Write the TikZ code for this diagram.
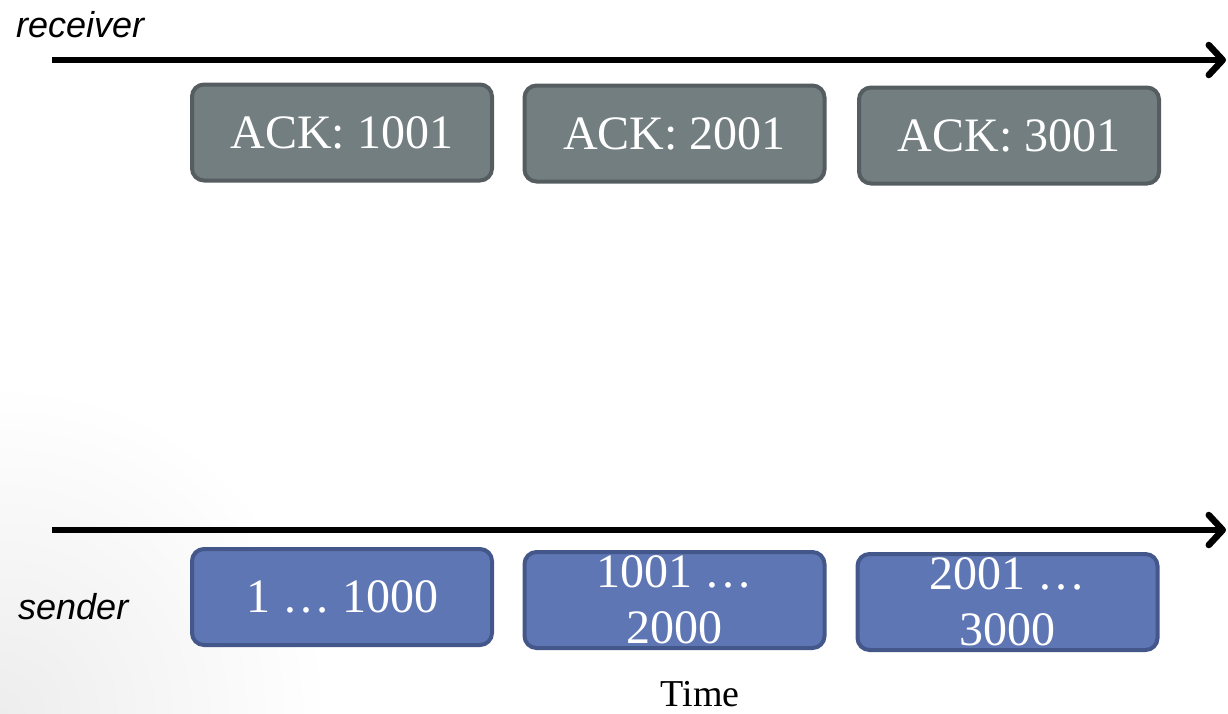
\documentclass[tikz,border=0pt]{standalone}
\usepackage{fontspec}
\setmainfont{Liberation Serif}
\newfontfamily\handfont{Liberation Sans}[ItalicFont={Liberation Sans Italic}]
\usetikzlibrary{arrows.meta}
\definecolor{ackfill}{HTML}{737E81}
\definecolor{ackline}{HTML}{555D60}
\definecolor{segfill}{HTML}{5F76B4}
\definecolor{segline}{HTML}{44578A}
\tikzset{
  timeline/.style={line width=6.5pt, -{Straight Barb[length=14pt,width=30pt,line cap=round,line join=round]}},
  packet/.style={rounded corners=12pt, line width=4pt, minimum width=300pt, minimum height=96pt,
    text=white, font=\fontsize{48}{56}\selectfont, align=center, inner sep=0pt},
  ackbox/.style={packet, fill=ackfill, draw=ackline},
  segbox/.style={packet, fill=segfill, draw=segline},
  seglabel/.style={text=white, font=\fontsize{48}{56}\selectfont, align=center, inner sep=0pt},
  who/.style={font=\handfont\itshape\fontsize{36}{40}\selectfont, anchor=west, inner sep=0pt}
}
\begin{document}
\begin{tikzpicture}[x=1pt,y=-1pt]
\useasboundingbox (0,0) rectangle (1228,713);
% soft grey glow in the lower left corner
\begin{scope}
\clip (0,0) rectangle (1228,713);
\shade[inner color=black!7, outer color=white] (0,713) circle (330);
\end{scope}

% time axes
\coordinate (rs) at (52,60);
\coordinate (re) at (1226,60);
\coordinate (ss) at (52,530);
\coordinate (se) at (1226,530);
\draw[timeline] (rs) -- (re);
\draw[timeline] (ss) -- (se);

\node[who] (recv) at (16,25) {receiver};
\node[who] (send) at (18,607) {sender};

% acknowledgements
\node[ackbox] (a1) at (342,132.5) {ACK: 1001};
\node[ackbox] (a2) at (674.5,133.5) {ACK: 2001};
\node[ackbox] (a3) at (1009,135.5) {ACK: 3001};

% data segments
\node[segbox] (s1) at (342,597) {1 \dots\ 1000};
\node[segbox, text height=0pt] (s2) at (674.5,600) {};
\node[segbox, text height=0pt] (s3) at (1007.5,602) {};
\node[seglabel] (t2) at (674.5,600) {1001 \dots\\2000};
\node[seglabel] (t3) at (1007.5,602) {2001 \dots\\3000};

\node[font=\fontsize{38}{42}\selectfont, inner sep=0pt] (time) at (700,694) {Time};
\end{tikzpicture}
\end{document}
